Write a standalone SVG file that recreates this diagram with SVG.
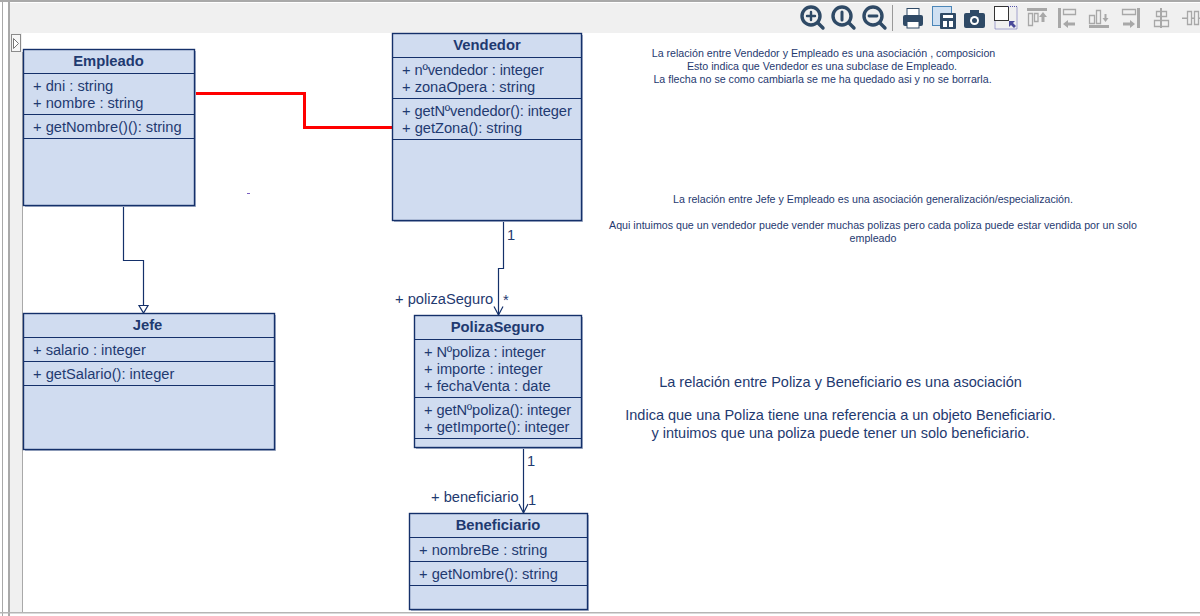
<svg xmlns="http://www.w3.org/2000/svg" width="1200" height="616" viewBox="0 0 1200 616">
<defs>
<style>
text{font-family:"Liberation Sans",Arial,sans-serif;fill:#1f3a70}
.box{fill:#d0dcf0;stroke:#14306a;stroke-width:1.4}
.sh{fill:#a9b4cb}
.div{stroke:#14306a;stroke-width:1.2;fill:none}
.t{font-size:14.8px;font-weight:bold;text-anchor:middle}
.m{font-size:14.67px}
.o{letter-spacing:-.12px}
.n{font-size:10.67px;text-anchor:middle}
.b{font-size:14.5px;text-anchor:middle}
.c{stroke:#14306a;stroke-width:1.2;fill:none}
.ic{fill:#2f4a66}
.dis{fill:none;stroke:#a8a8a8;stroke-width:1.300}
.disf{fill:#a8a8a8}
</style>
</defs>
<rect width="1200" height="616" fill="#fff"/>
<g id="chrome">
<rect x="0" y="0" width="1200" height="2" fill="#a9a9a9"/>
<rect x="10" y="3" width="1190" height="30" fill="#f0f0f0"/>
<rect x="10" y="33" width="12" height="579" fill="#f0f0f0"/>
<rect x="2" y="0" width="1" height="616" fill="#a9a9a9"/>
<rect x="8" y="0" width="2" height="616" fill="#a9a9a9"/>
<rect x="22" y="52" width="1" height="560" fill="#a9a9a9"/>
<rect x="0" y="612" width="1200" height="1.500" fill="#b5b5b5"/>
<rect x="11.500" y="34.500" width="9" height="17" fill="#f7f7f7" stroke="#222" stroke-width="1" stroke-dasharray="1 1"/>
<path d="M13.500 38.500l5 5-5 5z" fill="#fff" stroke="#777"/>
<rect x="247" y="193" width="3" height="1" fill="#7a5fc0"/>
</g>
<g id="toolbar">
<g fill="none" stroke="#2f4a66" stroke-width="3.400" stroke-linecap="round">
<circle cx="811" cy="16" r="9"/><path d="M818 23l5 5"/><path d="M807 16h8M811 12v8" stroke-width="2.400"/>
<circle cx="842" cy="16" r="9"/><path d="M849 23l5 5"/><path d="M842 12v8" stroke-width="3"/>
<circle cx="873" cy="16" r="9"/><path d="M880 23l5 5"/><path d="M869 16h8" stroke-width="2.800"/>
</g>
<rect x="892" y="5" width="1" height="26" fill="#999"/>
<rect x="903" y="15" width="20" height="11" rx="2" class="ic"/>
<rect x="907" y="8.500" width="12" height="7" fill="#fff" stroke="#2f4a66"/>
<rect x="907" y="21.500" width="12" height="6.500" fill="#fff" stroke="#2f4a66"/>
<rect x="932.500" y="6.500" width="19" height="19" fill="#cfe0f2" stroke="#4b86b8"/>
<rect x="940" y="13" width="16" height="16" rx="1" class="ic"/>
<rect x="943" y="21" width="4" height="6" fill="#fff"/><rect x="949" y="21" width="4" height="6" fill="#fff"/><rect x="943" y="15" width="10" height="3" fill="#fff"/>
<rect x="964" y="13" width="21" height="15" rx="2" class="ic"/><rect x="970" y="10" width="9" height="4" class="ic"/>
<circle cx="974.500" cy="20.500" r="4.500" fill="#fff"/><circle cx="974.500" cy="20.500" r="2.500" class="ic"/>
<rect x="994.500" y="6.500" width="14" height="14" fill="#fff" stroke="#333"/>
<path d="M1008 6.500h9v22.500h-22v-8" fill="none" stroke="#5555aa" stroke-dasharray="1 1"/>
<path d="M1009 21h6l-2 2 3 3-2 2-3-3-2 2z" fill="#4a4a9a"/>
<g id="align-icons">
<rect class="disf" x="1027" y="8" width="20" height="3"/><path class="dis" d="M1028.500 13.500h4v12h-4zM1034.500 13.500h3.500v8h-3.500z"/><path class="disf" d="M1043 12l4 5h-2.500v5h-3v-5h-2.500z"/>
<rect class="disf" x="1058" y="8" width="3" height="20"/><path class="dis" d="M1063.500 9.500h12v5h-12z"/><path class="disf" d="M1063 24l5-4v2.500h7v3h-7v2.500z"/>
<rect class="disf" x="1089" y="25" width="20" height="3"/><path class="dis" d="M1089.500 15.500h5v8h-5zM1096.500 10.500h4v13h-4z"/><path class="disf" d="M1102.500 18h2v-4h2v4h2l-3 4z"/>
<rect class="disf" x="1137" y="8" width="3" height="20"/><path class="dis" d="M1122.500 9.500h13v5h-13z"/><path class="disf" d="M1135 24l-5-4v2.500h-7v3h7v2.500z"/>
<rect class="disf" x="1160" y="8" width="2" height="20"/><path class="dis" d="M1156.500 11.500h10v5h-10zM1154.500 20.500h14v6h-14z"/>
<rect class="disf" x="1182" y="17.500" width="18" height="1.500"/><path class="dis" d="M1187.500 11.500h4v13h-4zM1194.500 11.500h4v13h-4z" style="fill:#f0f0f0"/>
</g>
</g>
<g id="connectors">
<path d="M195 93.500H304.500V127.500H392" fill="none" stroke="#f00" stroke-width="3"/>
<path class="c" d="M123.500 206V260.500H143.500V305"/>
<path d="M139 305.500h9l-4.500 7.500z" fill="#fff" stroke="#14306a" stroke-width="1.200"/>
<path class="c" d="M503.500 221V268.500H498.500V315"/>
<path class="c" d="M494 306.500l4.500 8.500 4.500-8.500"/>
<path class="c" d="M523.500 447V513"/>
<path class="c" d="M519 504l4.500 9 4.500-9"/>
</g>
<g id="edge-labels">
<text class="m" x="507" y="240">1</text>
<text class="m" x="395" y="304">+ polizaSeguro</text>
<text class="m" x="503" y="305">*</text>
<text class="m" x="527" y="466">1</text>
<text class="m" x="431" y="502">+ beneficiario</text>
<text class="m" x="528" y="505">1</text>
</g>
<g id="Empleado">
<rect class="sh" x="25" y="51" width="171" height="156"/>
<rect class="box" x="23.500" y="49.500" width="171" height="156"/>
<path class="div" d="M23.500 73.500H194.500M23.500 114.500H194.500M23.500 138.500H194.500"/>
<text class="t" x="108.500" y="66">Empleado</text>
<text class="m" x="33" y="91">+ dni : string</text>
<text class="m" x="33" y="108">+ nombre : string</text>
<text class="m" x="33" y="132">+ getNombre()(): string</text>
</g>
<g id="Vendedor">
<rect class="sh" x="394" y="35" width="189" height="187"/>
<rect class="box" x="392.500" y="33.500" width="189" height="187"/>
<path class="div" d="M392.500 57.500H581.500M392.500 98.500H581.500M392.500 139.500H581.500"/>
<text class="t" x="487" y="50">Vendedor</text>
<text class="m o" x="402" y="75">+ nºvendedor : integer</text>
<text class="m" x="402" y="92">+ zonaOpera : string</text>
<text class="m o" x="402" y="116">+ getNºvendedor(): integer</text>
<text class="m" x="402" y="133">+ getZona(): string</text>
</g>
<g id="Jefe">
<rect class="sh" x="25" y="315" width="251" height="136"/>
<rect class="box" x="23.500" y="313.500" width="251" height="136"/>
<path class="div" d="M23.500 337.500H274.500M23.500 361.500H274.500M23.500 385.500H274.500"/>
<text class="t" x="147.500" y="330">Jefe</text>
<text class="m" x="33" y="355">+ salario : integer</text>
<text class="m" x="33" y="379">+ getSalario(): integer</text>
</g>
<g id="PolizaSeguro">
<rect class="sh" x="416" y="317" width="167" height="132"/>
<rect class="box" x="414.500" y="315.500" width="167" height="132"/>
<path class="div" d="M414.500 339.500H581.500M414.500 397.500H581.500M414.500 438.500H581.500"/>
<text class="t" x="497.500" y="332">PolizaSeguro</text>
<text class="m o" x="424" y="357">+ Nºpoliza : integer</text>
<text class="m" x="424" y="374">+ importe : integer</text>
<text class="m" x="424" y="391">+ fechaVenta : date</text>
<text class="m o" x="424" y="415">+ getNºpoliza(): integer</text>
<text class="m" x="424" y="432">+ getImporte(): integer</text>
</g>
<g id="Beneficiario">
<rect class="sh" x="411" y="515" width="178" height="96"/>
<rect class="box" x="409.500" y="513.500" width="178" height="96"/>
<path class="div" d="M409.500 537.500H587.500M409.500 561.500H587.500M409.500 585.500H587.500"/>
<text class="t" x="498" y="530">Beneficiario</text>
<text class="m" x="419" y="555">+ nombreBe : string</text>
<text class="m" x="419" y="579">+ getNombre(): string</text>
</g>
<g id="notes">
<text class="n" x="823.500" y="57">La relación entre Vendedor y Empleado es una asociación , composicion</text>
<text class="n" x="822" y="70">Esto indica que Vendedor es una subclase de Empleado.</text>
<text class="n" x="822.500" y="83">La flecha no se como cambiarla se me ha quedado asi y no se borrarla.</text>
<text class="n" x="873" y="203">La relación entre Jefe y Empleado es una asociación generalización/especialización.</text>
<text class="n" x="873" y="229">Aqui intuimos que un vendedor puede vender muchas polizas pero cada poliza puede estar vendida por un solo</text>
<text class="n" x="873" y="242">empleado</text>
<text class="b" x="840.500" y="387">La relación entre Poliza y Beneficiario es una asociación</text>
<text class="b" x="840.500" y="420">Indica que una Poliza tiene una referencia a un objeto Beneficiario.</text>
<text class="b" x="840.500" y="438">y intuimos que una poliza puede tener un solo beneficiario.</text>
</g>
</svg>
